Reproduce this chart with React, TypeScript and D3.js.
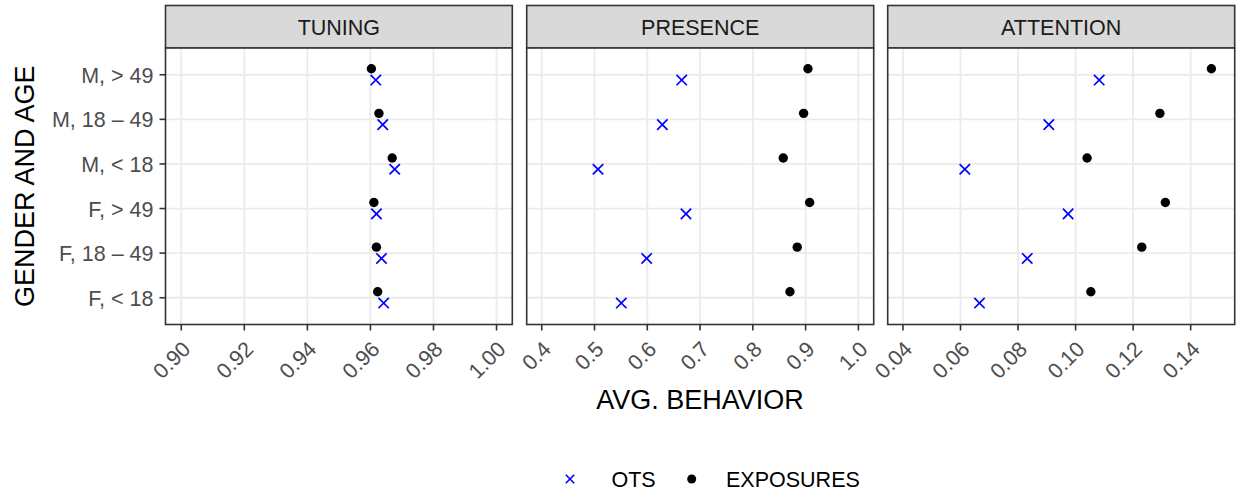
import React from "react";
import * as d3 from "d3";

const categories = ["M, > 49", "M, 18 – 49", "M, < 18", "F, > 49", "F, 18 – 49", "F, < 18"];
const facets = ["TUNING", "PRESENCE", "ATTENTION"];

const tuningOts = [0.9617, 0.9639, 0.9677, 0.9619, 0.9635, 0.9642];
const tuningExp = [0.9603, 0.9627, 0.9669, 0.9611, 0.9619, 0.9623];
const presenceOts = [0.6652, 0.6285, 0.5066, 0.6733, 0.5988, 0.5508];
const presenceExp = [0.9044, 0.8962, 0.8576, 0.9076, 0.8841, 0.8703];
const attentionOts = [0.1082, 0.0907, 0.0615, 0.0974, 0.0832, 0.0666];
const attentionExp = [0.1472, 0.1293, 0.1040, 0.1312, 0.1230, 0.1053];

const tuningTicks = [0.9, 0.92, 0.94, 0.96, 0.98, 1.0];
const presenceTicks = [0.4, 0.5, 0.6, 0.7, 0.8, 0.9, 1.0];
const attentionTicks = [0.04, 0.06, 0.08, 0.1, 0.12, 0.14];

const legendLabels = ["OTS", "EXPOSURES"];

const FONT = "'Liberation Sans', Arial, Helvetica, sans-serif";

const panelsSpec = [
  { name: facets[0], ots: tuningOts, exp: tuningExp, ticks: tuningTicks, domain: [0.895, 1.005], fmt: ".2f", x0: 165.5, x1: 512.3 },
  { name: facets[1], ots: presenceOts, exp: presenceExp, ticks: presenceTicks, domain: [0.3715, 1.029], fmt: ".1f", x0: 526.7, x1: 873.7 },
  { name: facets[2], ots: attentionOts, exp: attentionExp, ticks: attentionTicks, domain: [0.0347, 0.1553], fmt: ".2f", x0: 887.7, x1: 1234.7 },
];

export default function App() {
  const W = 1238, H = 493;
  const stripTop = 5.5, stripBottom = 48, panelBottom = 324.5;
  const y = d3.scalePoint<string>().domain(categories).range([stripBottom, panelBottom]).padding(0.6);
  const dotOff = -6, xOff = 5.3;
  const xs = 5.2;
  const grid = "#ebebeb";
  const dark = "#333333";
  const textCol = "#4d4d4d";
  const tickFs = 21.5;

  return (
    <svg width={W} height={H} style={{ position: "absolute", left: 0, top: 0, fontFamily: FONT }}>
      <rect x={0} y={0} width={W} height={H} fill="white" />
      {panelsSpec.map((p) => {
        const x = d3.scaleLinear().domain(p.domain).range([p.x0, p.x1]);
        const f = d3.format(p.fmt);
        return (
          <g key={p.name}>
            <rect x={p.x0} y={stripTop} width={p.x1 - p.x0} height={stripBottom - stripTop} fill="#d9d9d9" stroke={dark} strokeWidth={1.6} />
            <text x={(p.x0 + p.x1) / 2} y={(stripTop + stripBottom) / 2 + 1} textAnchor="middle" dominantBaseline="central" fontSize={21.5} fill="#1a1a1a">{p.name}</text>
            <rect x={p.x0} y={stripBottom} width={p.x1 - p.x0} height={panelBottom - stripBottom} fill="white" />
            {p.ticks.map((t) => (
              <line key={"gx" + t} x1={x(t)} x2={x(t)} y1={stripBottom} y2={panelBottom} stroke={grid} strokeWidth={1.8} />
            ))}
            {categories.map((c) => (
              <line key={"gy" + c} x1={p.x0} x2={p.x1} y1={y(c)} y2={y(c)} stroke={grid} strokeWidth={1.8} />
            ))}
            {categories.map((c, i) => (
              <circle key={"d" + c} cx={x(p.exp[i])} cy={(y(c) as number) + dotOff} r={4.7} fill="black" />
            ))}
            {categories.map((c, i) => {
              const cx = x(p.ots[i]);
              const cy = (y(c) as number) + xOff;
              return (
                <g key={"x" + c} stroke="#0000ff" strokeWidth={1.7}>
                  <line x1={cx - xs} x2={cx + xs} y1={cy - xs} y2={cy + xs} />
                  <line x1={cx - xs} x2={cx + xs} y1={cy + xs} y2={cy - xs} />
                </g>
              );
            })}
            <rect x={p.x0} y={stripBottom} width={p.x1 - p.x0} height={panelBottom - stripBottom} fill="none" stroke={dark} strokeWidth={1.6} />
            {p.ticks.map((t) => (
              <g key={"t" + t}>
                <line x1={x(t)} x2={x(t)} y1={panelBottom} y2={panelBottom + 6} stroke={dark} strokeWidth={1.6} />
                <text
                  transform={`translate(${x(t) + 5.5},${panelBottom + 21}) rotate(-45)`}
                  textAnchor="end"
                  dominantBaseline="central"
                  fontSize={tickFs}
                  fill={textCol}
                >
                  {f(t)}
                </text>
              </g>
            ))}
          </g>
        );
      })}
      {categories.map((c) => (
        <g key={"yl" + c}>
          <line x1={panelsSpec[0].x0 - 6} x2={panelsSpec[0].x0} y1={y(c)} y2={y(c)} stroke={dark} strokeWidth={1.6} />
          <text x={panelsSpec[0].x0 - 12} y={(y(c) as number) + 1} textAnchor="end" dominantBaseline="central" fontSize={tickFs} fill={textCol}>{c}</text>
        </g>
      ))}
      <text x={700} y={400} textAnchor="middle" dominantBaseline="central" fontSize={27} fill="black">AVG. BEHAVIOR</text>
      <text transform={`translate(25,${(stripBottom + panelBottom) / 2}) rotate(-90)`} textAnchor="middle" dominantBaseline="central" fontSize={27} fill="black">GENDER AND AGE</text>
      <g stroke="#0000ff" strokeWidth={1.6}>
        <line x1={570 - 4.2} x2={570 + 4.2} y1={479 - 4.2} y2={479 + 4.2} />
        <line x1={570 - 4.2} x2={570 + 4.2} y1={479 + 4.2} y2={479 - 4.2} />
      </g>
      <text x={611.5} y={480} dominantBaseline="central" fontSize={21.5} fill="black">{legendLabels[0]}</text>
      <circle cx={691.7} cy={479} r={4.5} fill="black" />
      <text x={726} y={480} dominantBaseline="central" fontSize={21.5} fill="black">{legendLabels[1]}</text>
    </svg>
  );
}
